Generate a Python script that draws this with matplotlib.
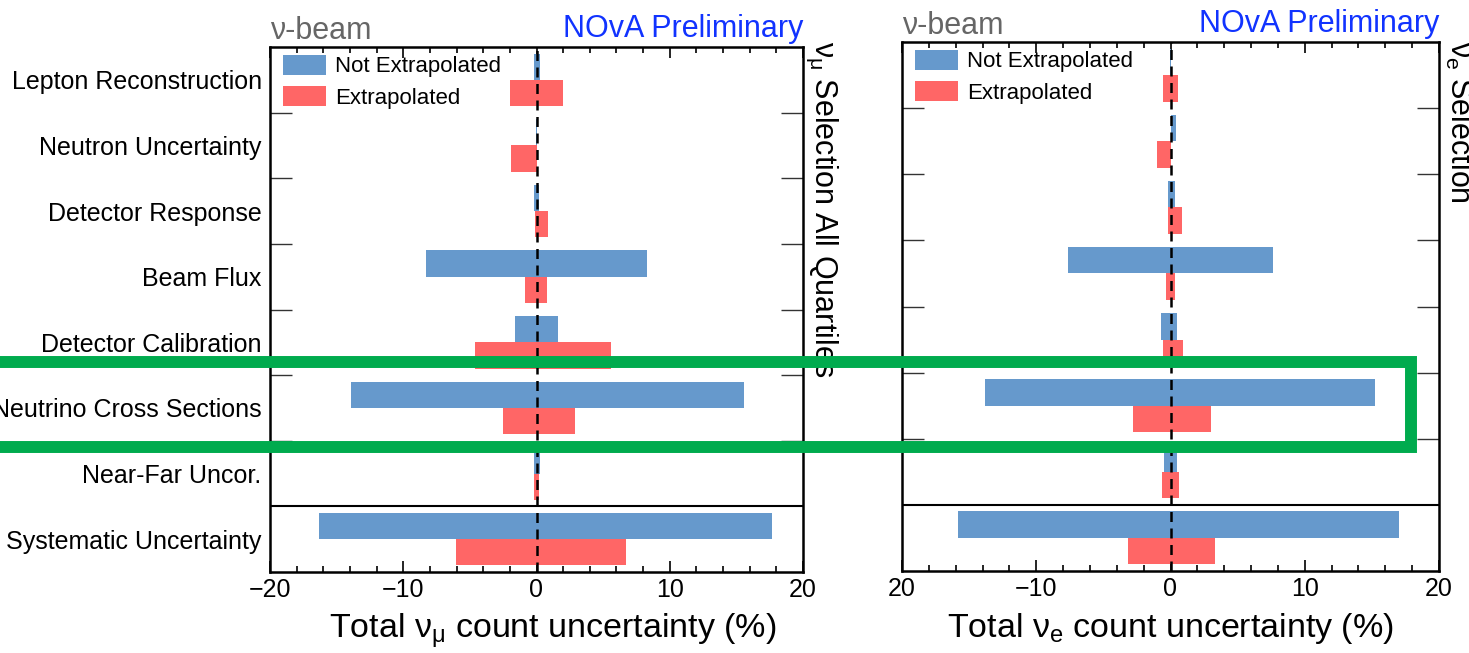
import matplotlib
matplotlib.use("Agg")
import matplotlib.pyplot as plt
import matplotlib.patches as mpatches
import numpy as np

plt.rcParams["font.family"] = ["Liberation Sans", "DejaVu Sans"]
plt.rcParams["mathtext.fontset"] = "custom"
plt.rcParams["mathtext.rm"] = "Liberation Sans"
plt.rcParams["mathtext.it"] = "Liberation Sans"
plt.rcParams["mathtext.bf"] = "Liberation Sans:bold"

# Systematic categories, listed from top to bottom
categories = [
    "Lepton Reconstruction",
    "Neutron Uncertainty",
    "Detector Response",
    "Beam Flux",
    "Detector Calibration",
    "Neutrino Cross Sections",
    "Near-Far Uncor.",
    "Systematic Uncertainty",
]

# nu_mu selection: shift range (%) for each category
numu_noextrap_lo = [-0.2, -0.02, -0.2, -8.3, -1.65, -13.9, -0.2, -16.3]
numu_noextrap_hi = [0.25, 0.03, 0.2, 8.3, 1.6, 15.55, 0.25, 17.7]
numu_extrap_lo = [-2.0, -1.9, -0.15, -0.85, -4.65, -2.55, -0.2, -6.05]
numu_extrap_hi = [2.0, 0.0, 0.85, 0.8, 5.6, 2.9, 0.2, 6.7]

# nu_e selection: shift range (%) for each category
nue_noextrap_lo = [-0.05, 0.0, -0.15, -7.65, -0.7, -13.8, -0.45, -15.8]
nue_noextrap_hi = [0.05, 0.4, 0.35, 7.65, 0.5, 15.2, 0.5, 17.0]
nue_extrap_lo = [-0.55, -1.0, -0.15, -0.3, -0.55, -2.8, -0.6, -3.15]
nue_extrap_hi = [0.55, 0.0, 0.85, 0.3, 0.95, 3.05, 0.65, 3.35]

xticks = [-20, -10, 0, 10, 20]
numu_xticklabels = ["\u221220", "\u221210", "0", "10", "20"]
nue_xticklabels = ["20", "\u221210", "0", "10", "20"]

BLUE = "#6699CC"
RED = "#FF6666"

W, H = 1469, 653
fig = plt.figure(figsize=(W / 100, H / 100), dpi=100)


def px_axes(x0, x1, y0, y1):
    return fig.add_axes([x0 / W, 1 - y1 / H, (x1 - x0) / W, (y1 - y0) / H])


def draw_panel(ax, nolo, nohi, exlo, exhi, ticklabels, show_cats, xlabel,
               xlabel_x, side_text, side_x, legend_anchor, height_px):
    y = np.arange(len(categories))
    nolo = np.array(nolo); nohi = np.array(nohi)
    exlo = np.array(exlo); exhi = np.array(exhi)
    ax.barh(y - 0.2, nohi - nolo, left=nolo, height=0.4, color=BLUE,
            linewidth=0, label="Not Extrapolated", zorder=2)
    ax.barh(y + 0.2, exhi - exlo, left=exlo, height=0.4, color=RED,
            linewidth=0, label="Extrapolated", zorder=2)
    ax.set_xlim(-20, 20)
    ax.set_ylim(len(categories) - 0.5, -0.5)

    ax.axvline(0, color="black", lw=1.8, dashes=(4, 2.6), zorder=3)
    ax.axhline(len(categories) - 1.5, color="black", lw=1.5, zorder=3)

    for s in ax.spines.values():
        s.set_linewidth(1.8)

    ax.set_xticks(xticks)
    ax.set_xticklabels(ticklabels, fontsize=18)
    ax.set_xticks(np.arange(-20, 21, 2), minor=True)
    ax.tick_params(axis="x", which="major", direction="in", length=8,
                   width=1.2, top=True, bottom=True, pad=4)
    ax.tick_params(axis="x", which="minor", direction="in", length=4,
                   width=1.2, top=True, bottom=True)

    ax.set_yticks(y)
    if show_cats:
        ax.set_yticklabels(categories, fontsize=18)
    else:
        ax.set_yticklabels([])
    ax.set_yticks(np.arange(0.5, len(categories) - 1.5, 1.0), minor=True)
    ax.tick_params(axis="y", which="major", length=0, pad=6)
    ax.tick_params(axis="y", which="minor", direction="in", length=16,
                   width=1.0, color="#333333", left=True, right=True)

    ax.set_xlabel(xlabel, fontsize=24.5)
    ax.xaxis.set_label_coords(xlabel_x, -0.075)

    ax.text(0.0, 1 + 8 / height_px, "\u03bd-beam", transform=ax.transAxes,
            fontsize=22, color="#666666", ha="left", va="baseline")
    ax.text(1.0, 1 + 10 / height_px, "NOvA Preliminary",
            transform=ax.transAxes, fontsize=22, color="#1133FF",
            ha="right", va="baseline")
    fig.text(side_x / W, 1 - 41 / H, side_text, fontsize=22,
             rotation=-90, ha="left", va="baseline", rotation_mode="anchor")

    ax.legend(loc="upper left", bbox_to_anchor=legend_anchor, frameon=False,
              fontsize=16, handlelength=1.95, handleheight=1.0,
              handletextpad=0.4, labelspacing=0.4, borderpad=0,
              borderaxespad=0)


ax1 = px_axes(270, 803, 47, 572)
draw_panel(ax1, numu_noextrap_lo, numu_noextrap_hi, numu_extrap_lo,
           numu_extrap_hi, numu_xticklabels, True,
           r"Total $\nu_{\mu}$ count uncertainty (%)", 0.53,
           r"$\nu_{\mu}$ Selection All Quartiles", 815, (0.024, 0.985), 525)

ax2 = px_axes(902, 1439, 42, 571)
draw_panel(ax2, nue_noextrap_lo, nue_noextrap_hi, nue_extrap_lo,
           nue_extrap_hi, nue_xticklabels, False,
           r"Total $\nu_{e}$ count uncertainty (%)", 0.5,
           r"$\nu_{e}$ Selection", 1450, (0.024, 0.985), 529)

# Highlight frame around the cross-section row
frame = mpatches.Rectangle((-20 / W, 1 - 447 / H), (1411 + 20) / W,
                           (447 - 362) / H, transform=fig.transFigure,
                           fill=False, edgecolor="#00AB4E", linewidth=8.6,
                           joinstyle="miter", zorder=10, clip_on=False)
fig.add_artist(frame)

fig.savefig("out.png", dpi=100)
